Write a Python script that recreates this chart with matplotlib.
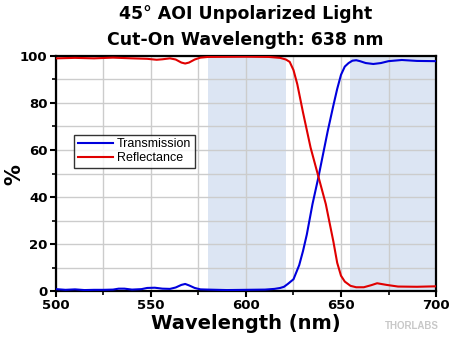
import matplotlib
matplotlib.use("Agg")
import matplotlib.pyplot as plt
from matplotlib.ticker import MultipleLocator

plt.rcParams['font.family'] = ['Liberation Sans', 'DejaVu Sans']

# wavelength (nm) and transmission (%)
wl_t = [500, 505, 510, 515, 520, 525, 530, 533, 536, 540, 545, 548, 552, 556,
        560, 563, 566, 568, 570, 573, 576, 580, 590, 600, 610, 615, 618, 620,
        622, 625, 628, 630, 632, 635, 638, 640, 643, 646, 648, 650, 652, 654,
        656, 658, 660, 663, 667, 671, 675, 682, 690, 700]
trans = [0.8, 0.5, 0.7, 0.4, 0.5, 0.5, 0.6, 1.0, 1.0, 0.6, 0.8, 1.3, 1.4, 1.0,
         0.9, 1.5, 2.6, 3.0, 2.4, 1.3, 0.7, 0.6, 0.4, 0.5, 0.6, 0.9, 1.3, 1.8,
         3.0, 5.0, 11, 17, 24, 37, 48, 56, 68, 79, 86, 92, 95.5, 97, 98, 98.2,
         97.8, 97.0, 96.6, 97.0, 97.8, 98.3, 97.9, 97.8]

# wavelength (nm) and reflectance (%)
wl_r = [500, 510, 520, 530, 540, 548, 553, 556, 560, 563, 566, 568, 570, 573,
        576, 580, 600, 612, 618, 621, 623, 625, 627, 630, 634, 637, 639, 642,
        644, 646, 648, 650, 652, 655, 658, 662, 666, 669, 674, 680, 690, 700]
refl = [99.0, 99.2, 99.0, 99.3, 99.0, 98.8, 98.4, 98.6, 99.0, 98.5, 97.2, 96.8,
        97.2, 98.5, 99.3, 99.6, 99.7, 99.6, 99.2, 98.5, 97.5, 94, 88, 76, 61,
        52, 46, 37, 29, 21, 12, 6.5, 4.0, 2.2, 1.6, 1.6, 2.5, 3.3, 2.6, 1.9,
        1.8, 2.0]

shaded = [(580, 621), (655, 700)]

bold_font = ['DejaVu Sans']

fig = plt.figure(figsize=(4.5, 3.41), dpi=100)
ax = fig.add_axes([0.1244, 0.1466, 0.8445, 0.6892])

for lo, hi in shaded:
    ax.axvspan(lo, hi, color='#dce5f3', zorder=0, lw=0)

ax.plot(wl_t, trans, color='#0000dd', lw=1.5, label='Transmission', zorder=3)
ax.plot(wl_r, refl, color='#e00000', lw=1.5, label='Reflectance', zorder=3)

ax.set_xlim(500, 700)
ax.set_ylim(0, 100)
ax.xaxis.set_major_locator(MultipleLocator(50))
ax.xaxis.set_minor_locator(MultipleLocator(25))
ax.yaxis.set_major_locator(MultipleLocator(20))
ax.yaxis.set_minor_locator(MultipleLocator(10))
ax.grid(which='both', color='#cccccc', lw=1.0, zorder=1)
ax.set_axisbelow(True)

ax.tick_params(which='major', direction='out', length=4, width=1.5,
               labelsize=9.5, pad=2)
ax.tick_params(which='minor', direction='out', length=3, width=1.2)
for lab in ax.get_xticklabels() + ax.get_yticklabels():
    lab.set_fontweight('bold')
    lab.set_family(bold_font)
for sp in ax.spines.values():
    sp.set_linewidth(1.6)

ax.set_xlabel('Wavelength (nm)', fontsize=14, fontweight='bold', labelpad=1,
              family=bold_font)
fig.text(0.033, 0.487, '%', rotation=90, ha='center', va='center',
         fontsize=15, fontweight='bold', family=bold_font)

leg = ax.legend(loc='upper left', bbox_to_anchor=(0.048, 0.665), fontsize=9,
                frameon=True, fancybox=False, borderpad=0.3, handlelength=2.8,
                handletextpad=0.3, labelspacing=0.15, borderaxespad=0)
leg.get_frame().set_edgecolor('black')
leg.get_frame().set_linewidth(1.0)

fig.text(0.546, 0.958, '45° AOI Unpolarized Light', ha='center', va='center',
         fontsize=12.5, fontweight='bold', family=bold_font)
fig.text(0.546, 0.882, 'Cut-On Wavelength: 638 nm', ha='center', va='center',
         fontsize=12.5, fontweight='bold', family=bold_font)
fig.text(0.915, 0.045, 'THORLABS', ha='center', va='center', fontsize=7,
         fontweight='bold', color='#c8c8c8')

fig.savefig('out.png', dpi=100)
